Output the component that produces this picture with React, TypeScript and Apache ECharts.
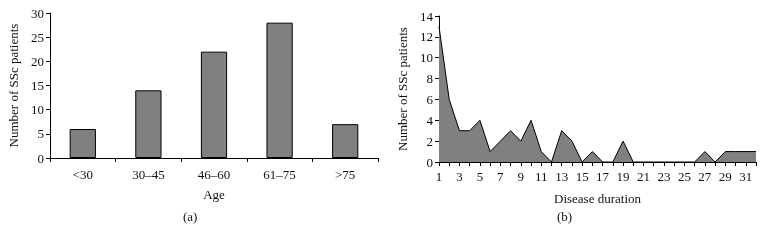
import React, { useEffect, useRef } from "react";
import * as echarts from "echarts";

const ageCategories = ["<30", "30–45", "46–60", "61–75", ">75"];
const ageCounts = [6, 14, 22, 28, 7];

const durationCategories = Array.from({ length: 32 }, (_, i) => String(i + 1));
const durationCounts = [13, 6, 3, 3, 4, 1, 2, 3, 2, 4, 1, 0, 3, 2, 0, 1, 0, 0, 2, 0, 0, 0, 0, 0, 0, 0, 1, 0, 1, 1, 1, 1];

const FONT = "Liberation Serif";

export default function App() {
  const ref = useRef<HTMLDivElement>(null);
  useEffect(() => {
    const chart = echarts.init(ref.current!, null, { renderer: "svg" });
    const axisLabel = { color: "#111", fontFamily: FONT, fontSize: 13 };
    const nameStyle = { color: "#111", fontFamily: FONT, fontSize: 13 };
    const line = { show: true, lineStyle: { color: "#000", width: 1 } };
    chart.setOption({
      animation: false,
      textStyle: { fontFamily: FONT },
      grid: [
        { left: 50, top: 13, width: 328, height: 145 },
        { left: 439, top: 16, width: 317, height: 146 },
      ],
      xAxis: [
        {
          gridIndex: 0,
          type: "category",
          data: ageCategories,
          axisLine: line,
          axisTick: { show: true, inside: false, length: 4, lineStyle: { color: "#000" } },
          axisLabel: { ...axisLabel, margin: 10 },
          name: "Age",
          nameLocation: "middle",
          nameGap: 30,
          nameTextStyle: nameStyle,
        },
        {
          gridIndex: 1,
          type: "category",
          data: durationCategories,
          boundaryGap: false,
          axisLine: line,
          axisTick: { show: true, interval: 0, length: 4, lineStyle: { color: "#000" } },
          axisLabel: { ...axisLabel, interval: 1, margin: 8 },
          name: "Disease duration",
          nameLocation: "middle",
          nameGap: 30,
          nameTextStyle: nameStyle,
        },
      ],
      yAxis: [
        {
          gridIndex: 0,
          type: "value",
          min: 0,
          max: 30,
          interval: 5,
          splitLine: { show: false },
          axisLine: line,
          axisTick: { show: true, length: 4, lineStyle: { color: "#000" } },
          axisLabel: { ...axisLabel, margin: 6 },
          name: "Number of SSc patients",
          nameLocation: "middle",
          nameGap: 30,
          nameTextStyle: nameStyle,
        },
        {
          gridIndex: 1,
          type: "value",
          min: 0,
          max: 14,
          interval: 2,
          splitLine: { show: false },
          axisLine: line,
          axisTick: { show: true, length: 4, lineStyle: { color: "#000" } },
          axisLabel: { ...axisLabel, margin: 6 },
          name: "Number of SSc patients",
          nameLocation: "middle",
          nameGap: 30,
          nameTextStyle: nameStyle,
        },
      ],
      series: [
        {
          type: "bar",
          xAxisIndex: 0,
          yAxisIndex: 0,
          data: ageCounts,
          barWidth: "40%",
          itemStyle: { color: "#808080", borderColor: "#000", borderWidth: 1 },
        },
        {
          type: "line",
          xAxisIndex: 1,
          yAxisIndex: 1,
          data: durationCounts,
          symbol: "none",
          lineStyle: { color: "#000", width: 1 },
          areaStyle: { color: "#808080", opacity: 1 },
        },
      ],
      graphic: [
        { type: "text", left: 183, top: 210, style: { text: "(a)", font: `13px ${FONT}`, fill: "#111" } },
        { type: "text", left: 557, top: 210, style: { text: "(b)", font: `13px ${FONT}`, fill: "#111" } },
      ],
    });
    return () => chart.dispose();
  }, []);
  return <div ref={ref} style={{ position: "fixed", left: 0, top: 0, width: 764, height: 245 }} />;
}
